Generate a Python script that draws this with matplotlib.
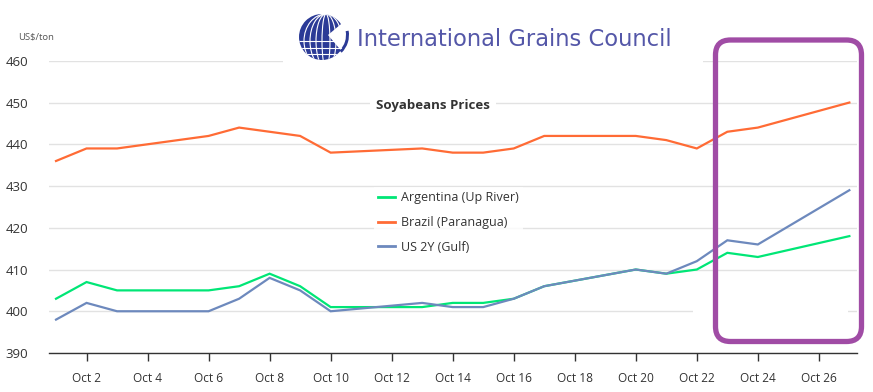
import matplotlib
matplotlib.use("Agg")
import matplotlib.pyplot as plt
from matplotlib.patches import FancyBboxPatch, Rectangle, Circle, Ellipse, Wedge
import numpy as np

# ---- data ----
days = [1, 2, 3, 6, 7, 8, 9, 10, 13, 14, 15, 16, 17, 20, 21, 22, 23, 24, 27]
argentina = [403, 407, 405, 405, 406, 409, 406, 401, 401, 402, 402, 403, 406, 410, 409, 410, 414, 413, 418]
brazil = [436, 439, 439, 442, 444, 443, 442, 438, 439, 438, 438, 439, 442, 442, 441, 439, 443, 444, 450]
us2y = [398, 402, 400, 400, 403, 408, 405, 400, 402, 401, 401, 403, 406, 410, 409, 412, 417, 416, 429]
series_names = ["Argentina (Up River)", "Brazil (Paranagua)", "US 2Y (Gulf)"]
tick_days = [2, 4, 6, 8, 10, 12, 14, 16, 18, 20, 22, 24, 26]
tick_labels = ["Oct %d" % d for d in tick_days]
y_ticks = [390, 400, 410, 420, 430, 440, 450, 460]

W, H = 873, 392
fig = plt.figure(figsize=(W / 100, H / 100), dpi=100)
FONT = ["Open Sans", "DejaVu Sans"]
plt.rcParams['font.family'] = FONT

ax = fig.add_axes([49 / W, 1 - 353 / H, (857 - 49) / W, (353 - 60.8) / H])
ax.set_xlim(0.77, 27.25)
ax.set_ylim(390, 460)
colors = ["#00e676", "#ff6b35", "#6d89bd"]
for vals, c, n in zip([argentina, brazil, us2y], colors, series_names):
    ax.plot(days, vals, color=c, lw=1.6, label=n, solid_joinstyle="miter", zorder=3)

ax.set_yticks(y_ticks)
ax.set_yticklabels([str(v) for v in y_ticks], fontsize=9.5, color="#333333")
ax.tick_params(axis="y", length=0, pad=15)
ax.set_xticks(tick_days)
ax.set_xticklabels(tick_labels, fontsize=8.6, color="#333333")
ax.tick_params(axis="x", length=6, width=1, color="#333333", pad=8)
ax.grid(axis="y", color="#e2e2e2", lw=1)
ax.set_axisbelow(True)
for s in ["top", "right", "left"]:
    ax.spines[s].set_visible(False)
ax.spines["bottom"].set_color("#333333")
ax.spines["bottom"].set_linewidth(1)

# ---- overlay in pixel coordinates ----
ov = fig.add_axes([0, 0, 1, 1], zorder=5)
ov.set_xlim(0, W)
ov.set_ylim(H, 0)
ov.axis("off")
ov.patch.set_alpha(0)

ov.text(18, 37, "US$/ton", fontsize=6.8, color="#555555", va="center", ha="left")

# white cover of logo image
ov.add_patch(Rectangle((283, 0), 420, 66, facecolor="white", edgecolor="none"))
# odd white cover near bottom right
ov.add_patch(Rectangle((693, 307), 155, 8, facecolor="white", edgecolor="none"))

# globe logo
cx, cy, r = 322, 37, 23
globe = Circle((cx, cy), r, facecolor="#2b3a96", edgecolor="none")
ov.add_patch(globe)
for w in [8, 20, 32, 44]:
    e = Ellipse((cx + 4, cy + 4), w, 2 * r + 8, facecolor="none", edgecolor="white", lw=0.8)
    e.set_clip_path(globe)
    ov.add_patch(e)
for yy in [cy + 4, cy + 11, cy + 17]:
    ln, = ov.plot([cx - r, cx + r], [yy, yy], color="white", lw=0.8)
    ln.set_clip_path(globe)
ov.add_patch(Wedge((cx + 6, cy - 2), r - 2, -40, 50, facecolor="white", edgecolor="none"))
ov.add_patch(Wedge((cx + 2, cy - 2), r + 2, -10, 45, width=3, facecolor="#2b3a96", edgecolor="none"))
ov.text(357, 39, "International Grains Council", fontsize=16.3, color="#5457a8",
        family="DejaVu Sans", va="center", ha="left")

# chart title
ov.text(433, 105.5, "Soyabeans Prices", fontsize=9.5, fontweight="bold", color="#333333",
        ha="center", va="center",
        bbox=dict(boxstyle="square,pad=0.45", facecolor="white", edgecolor="none"))

# highlight box
ov.add_patch(FancyBboxPatch((715.5, 40), 146, 301.5, boxstyle="round,pad=0,rounding_size=15",
                            facecolor="none", edgecolor="#a04ca5", lw=3.8))

# legend
handles, labels = ax.get_legend_handles_labels()
leg = ov.legend(handles, labels, loc="center left", bbox_to_anchor=(374 / W, 1 - 222.5 / H),
                bbox_transform=fig.transFigure, frameon=True, fontsize=9,
                handlelength=1.35, handletextpad=0.45, labelspacing=0.94, borderpad=0.35,
                borderaxespad=0, fancybox=False)
leg.get_frame().set_facecolor("white")
leg.get_frame().set_edgecolor("none")
for t in leg.get_texts():
    t.set_color("#333333")
for l in leg.get_lines():
    l.set_linewidth(2)

fig.savefig("out.png", dpi=100)
